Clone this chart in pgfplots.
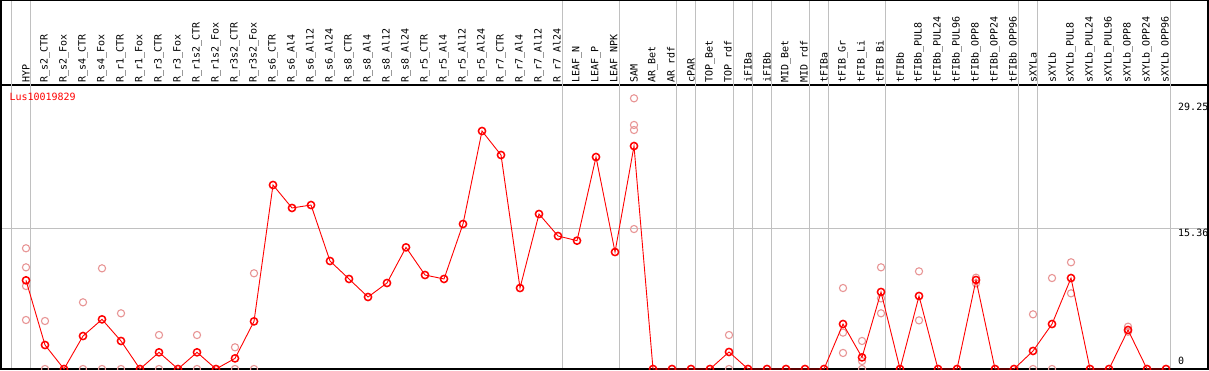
\documentclass[border=0pt]{standalone}
\usepackage{pgfplots}
\pgfplotsset{compat=1.18}
\usepackage{pgfplotstable}
\usepackage{fontspec}
\setmonofont{DejaVu Sans Mono}
\definecolor{pinkrep}{RGB}{232,150,150}
\definecolor{gridgray}{RGB}{192,192,192}

\pgfplotstableread{
x y
0 9.68
1 2.62
2 0
3 3.60
4 5.42
5 3.06
6 0
7 1.82
8 0
9 1.82
10 0
11 1.16
12 5.20
13 20.09
14 17.58
15 17.90
16 11.79
17 9.83
18 7.86
19 9.39
20 13.28
21 10.26
22 9.83
23 15.83
24 25.98
25 23.36
26 8.84
27 16.92
28 14.52
29 14.01
30 23.14
31 12.77
32 24.34
33 0
34 0
35 0
36 0
37 1.86
38 0
39 0
40 0
41 0
42 0
43 4.91
44 1.27
45 8.41
46 0
47 7.97
48 0
49 0
50 9.72
51 0
52 0
53 1.97
54 4.91
55 9.93
56 0
57 0
58 4.26
59 0
60 0
}\mainT

\pgfplotstableread{
x y
0 13.18
0 11.10
0 9.06
0 5.35
1 5.24
1 0
3 7.28
3 0
4 10.99
4 0
5 6.08
5 0
7 3.71
7 0
9 3.71
9 0
11 2.37
11 0
12 10.45
12 0
32 29.55
32 26.64
32 26.09
32 15.28
37 3.71
37 0
43 8.84
43 3.97
43 1.75
44 3.06
44 0.87
44 0
45 11.10
45 7.71
45 6.08
47 10.66
47 5.31
50 9.97
50 9.35
53 5.97
53 0
54 9.93
54 0
55 11.65
55 8.26
58 4.62
58 4.07
}\repT

\begin{document}
\begin{tikzpicture}[font=\ttfamily\fontsize{10}{12}\selectfont]
\begin{axis}[
  x=19pt, y=9.16pt,
  xmin=-1.316, xmax=62.21, ymin=0, ymax=31.0,
  axis line style={line width=1.1pt},
  xtick={0,...,60},
  xticklabels={HYP,R\_s2\_CTR,R\_s2\_Fox,R\_s4\_CTR,R\_s4\_Fox,R\_r1\_CTR,R\_r1\_Fox,R\_r3\_CTR,R\_r3\_Fox,R\_r1s2\_CTR,R\_r1s2\_Fox,R\_r3s2\_CTR,R\_r3s2\_Fox,R\_s6\_CTR,R\_s6\_Al4,R\_s6\_Al12,R\_s6\_Al24,R\_s8\_CTR,R\_s8\_Al4,R\_s8\_Al12,R\_s8\_Al24,R\_r5\_CTR,R\_r5\_Al4,R\_r5\_Al12,R\_r5\_Al24,R\_r7\_CTR,R\_r7\_Al4,R\_r7\_Al12,R\_r7\_Al24,LEAF\_N,LEAF\_P,LEAF\_NPK,SAM,AR\_Bet,AR\_rdf,cPAR,TOP\_Bet,TOP\_rdf,iFIBa,iFIBb,MID\_Bet,MID\_rdf,tFIBa,tFIB\_Gr,tFIB\_Li,tFIB\_Bi,tFIBb,tFIBb\_PUL8,tFIBb\_PUL24,tFIBb\_PUL96,tFIBb\_OPP8,tFIBb\_OPP24,tFIBb\_OPP96,sXYLa,sXYLb,sXYLb\_PUL8,sXYLb\_PUL24,sXYLb\_PUL96,sXYLb\_OPP8,sXYLb\_OPP24,sXYLb\_OPP96},
  xticklabel pos=upper,
  xticklabel style={rotate=90, anchor=west, inner sep=2pt, font=\ttfamily\fontsize{10}{12}\selectfont},
  major tick length=0pt,
  ytick=\empty,
  clip mode=individual,
  clip marker paths=true,
  scale only axis,
]
\pgfplotsinvokeforeach{-0.75,0.25,28.25,31.25,34.25,35.25,37.25,38.25,39.25,41.25,42.25,45.25,52.25,53.25,60.25}{
  \draw[gridgray, line width=1pt] (axis cs:#1,0) -- (axis cs:#1,40.23);
}
\draw[gridgray, line width=1pt] (axis cs:-1.316,15.36) -- (axis cs:62.21,15.36);
\draw[black, line width=1.1pt] (axis cs:-1.316,0) rectangle (axis cs:62.21,40.23);

\addplot[only marks, mark=o, color=pinkrep, mark size=3.6pt, mark options={line width=1.1pt}] table[x=x,y=y]{\repT};
\addplot[red, line width=0.9pt, mark=o, mark size=3.6pt, mark options={line width=1.5pt}] table[x=x,y=y]{\mainT};

\node[anchor=base west, inner sep=0pt, text=red] at (axis cs:-0.879,29.26) {Lus10019829};
\node[anchor=north west, inner sep=0pt] at (axis cs:60.63,29.0) {29.25};
\node[anchor=north west, inner sep=0pt] at (axis cs:60.63,15.32) {15.36};
\node[anchor=south west, inner sep=0pt] at (axis cs:60.63,0.44) {0};

\coordinate (BL) at (axis cs:-1.316,0);
\coordinate (TR) at (axis cs:62.21,40.23);
\end{axis}
\pgfresetboundingbox
\path ([xshift=-1pt,yshift=-1pt]BL) rectangle ([xshift=1pt,yshift=0.5pt]TR);
\end{tikzpicture}
\end{document}
